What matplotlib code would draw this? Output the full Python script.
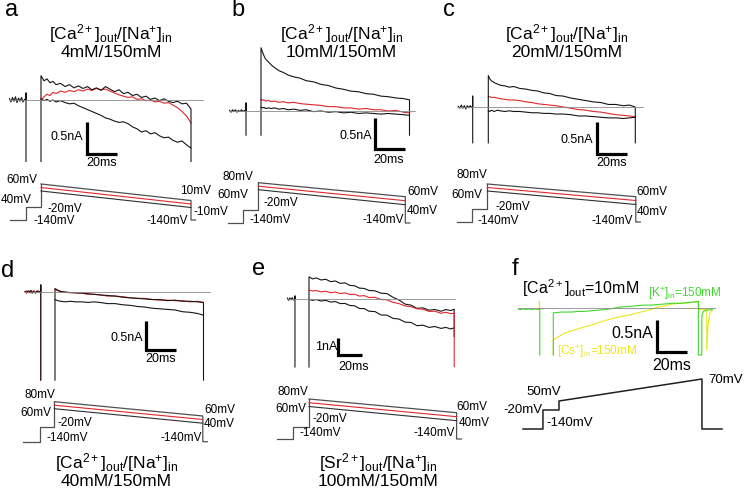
import matplotlib.pyplot as plt

plt.rcParams["font.family"] = "Liberation Sans"
plt.rcParams["mathtext.fontset"] = "custom"
plt.rcParams["mathtext.rm"] = "Liberation Sans"
plt.rcParams["mathtext.it"] = "Liberation Sans:italic"
plt.rcParams["mathtext.bf"] = "Liberation Sans:bold"

# ---------------- current traces (time in ms from ramp onset, current in nA) ----------------
# panel a: [Ca2+]out 4 mM
a_pre_t = [-21, -20, -19, -18, -17, -16, -15, -14, -13, -12, -11, -10]
a_pre = [0.02, -0.03, 0.04, -0.02, 0.05, -0.04, 0.03, -0.02, 0.04, -0.03, 0.01, 0.00]
a_cap = [0.11, -0.96]
a_t = [0, 2, 4, 6, 8, 10, 13, 16, 19, 22, 25, 28, 31, 34, 37, 40, 43, 46, 49, 52,
       55, 58, 61, 64, 67, 70, 73, 76, 79, 82, 85, 88, 91, 94, 97, 100]
a_top = [0.38, 0.30, 0.33, 0.27, 0.29, 0.24, 0.26, 0.21, 0.24, 0.19, 0.22, 0.18, 0.21, 0.16, 0.19,
         0.15, 0.21, 0.17, 0.13, 0.16, 0.10, 0.12, 0.07, 0.09, 0.04, 0.06, 0.01, 0.03, -0.01, 0.02,
         -0.02, -0.04, -0.02, -0.06, -0.05, -0.14]
a_red = [0.00, 0.05, 0.09, 0.07, 0.12, 0.10, 0.14, 0.12, 0.15, 0.13, 0.16, 0.14, 0.17, 0.15, 0.18,
         0.16, 0.17, 0.14, 0.11, 0.08, 0.06, 0.04, 0.05, 0.01, 0.02, -0.01, 0.00, -0.03, -0.02, -0.05,
         -0.04, -0.08, -0.12, -0.18, -0.25, -0.36]
a_bot = [0.02, -0.01, 0.01, -0.02, 0.00, -0.03, -0.01, -0.04, -0.06, -0.05, -0.09, -0.12, -0.15, -0.18,
         -0.21, -0.24, -0.28, -0.30, -0.33, -0.35, -0.34, -0.37, -0.42, -0.45, -0.50, -0.48, -0.53,
         -0.51, -0.56, -0.59, -0.58, -0.63, -0.66, -0.64, -0.70, -0.75]
a_floor = -0.96

# panel b: 10 mM
b_pre_t = [-21, -20, -19, -18, -17, -16, -15, -14, -13, -12, -11, -10]
b_pre = [0.01, -0.02, 0.02, -0.01, 0.02, -0.02, 0.01, -0.01, 0.02, -0.01, 0.01, 0.00]
b_cap = [0.13, -0.39]
b_t = [0, 1, 2, 3, 5, 7, 9, 12, 15, 18, 22, 26, 30, 35, 40, 45, 50, 55, 60, 65, 70, 75, 80, 85, 90, 95, 99]
b_top = [1.02, 0.95, 0.89, 0.84, 0.79, 0.74, 0.70, 0.65, 0.62, 0.58, 0.55, 0.53, 0.49, 0.47, 0.43,
         0.41, 0.37, 0.35, 0.32, 0.31, 0.28, 0.27, 0.24, 0.23, 0.21, 0.20, 0.18]
b_red = [0.19, 0.17, 0.18, 0.16, 0.17, 0.15, 0.16, 0.14, 0.15, 0.13, 0.14, 0.12, 0.11, 0.10, 0.09,
         0.07, 0.07, 0.05, 0.05, 0.03, 0.04, 0.02, 0.02, 0.00, 0.01, -0.02, -0.03]
b_bot = [0.06, 0.05, 0.06, 0.04, 0.05, 0.04, 0.05, 0.03, 0.04, 0.02, 0.03, 0.01, 0.02, -0.01, 0.00,
         -0.02, -0.01, -0.03, -0.02, -0.04, -0.03, -0.04, -0.05, -0.04, -0.05, -0.06, -0.07]
b_floor = -0.39

# panel c: 20 mM
c_pre_t = [-20, -19, -18, -17, -16, -15, -14, -13, -12, -11, -10.4]
c_pre = [0.01, -0.02, 0.03, -0.02, 0.02, -0.03, 0.02, -0.01, 0.02, -0.01, 0.00]
c_cap = [0.17, -0.56]
c_t = [0, 1, 2, 4, 6, 8, 11, 14, 17, 21, 25, 29, 33, 37, 41, 45, 50, 55, 60, 65, 70, 75, 80, 85, 90, 94, 98]
c_top = [0.49, 0.44, 0.41, 0.38, 0.36, 0.34, 0.33, 0.31, 0.32, 0.29, 0.28, 0.26, 0.25, 0.22, 0.21,
         0.18, 0.17, 0.14, 0.12, 0.10, 0.08, 0.07, 0.04, 0.04, 0.02, 0.03, 0.00]
c_red = [0.17, 0.16, 0.15, 0.15, 0.14, 0.13, 0.12, 0.11, 0.11, 0.10, 0.08, 0.07, 0.05, 0.04, 0.03,
         0.02, 0.00, -0.02, -0.04, -0.05, -0.07, -0.08, -0.10, -0.12, -0.13, -0.14, -0.15]
c_bot = [-0.06, -0.07, -0.05, -0.07, -0.05, -0.06, -0.07, -0.06, -0.07, -0.07, -0.08, -0.09, -0.09,
         -0.10, -0.10, -0.11, -0.11, -0.12, -0.14, -0.14, -0.15, -0.16, -0.17, -0.17, -0.18, -0.17, -0.16]
c_floor = -0.56

# panel d: 40 mM
d_pre_t = [-20, -19, -18, -17, -16, -15, -14, -13, -12, -11, -10, -9.5]
d_pre = [0.01, -0.02, 0.02, -0.01, 0.03, -0.02, 0.01, -0.02, 0.02, -0.01, 0.01, 0.00]
d_pre_red = [0.00, 0.02, -0.01, 0.02, -0.02, 0.01, 0.02, -0.01, 0.01, 0.02, -0.01, 0.00]
d_cap = [0.12, -1.52]
d_t = [0, 2, 4, 7, 10, 14, 18, 22, 26, 30, 35, 40, 45, 50, 55, 60, 65, 70, 75, 80, 85, 90, 95, 99]
d_top = [0.06, 0.03, 0.01, 0.00, -0.01, -0.01, -0.02, -0.03, -0.04, -0.05, -0.06, -0.07, -0.09,
         -0.10, -0.11, -0.12, -0.13, -0.13, -0.15, -0.14, -0.16, -0.16, -0.17, -0.18]
d_red = [0.04, 0.02, 0.00, -0.01, -0.01, -0.02, -0.02, -0.04, -0.04, -0.05, -0.07, -0.07, -0.08,
         -0.10, -0.11, -0.11, -0.13, -0.14, -0.14, -0.15, -0.15, -0.17, -0.16, -0.18]
d_bot = [-0.13, -0.15, -0.16, -0.17, -0.16, -0.17, -0.17, -0.18, -0.17, -0.18, -0.20, -0.20, -0.22,
         -0.23, -0.25, -0.26, -0.28, -0.29, -0.30, -0.31, -0.34, -0.35, -0.37, -0.40]
d_floor = -1.52

# panel e: [Sr2+]out 100 mM
e_pre_t = [-18, -17, -16, -15, -14, -13, -12, -11.7]
e_pre = [0.05, -0.08, 0.06, -0.05, 0.08, -0.06, 0.03, 0.00]
e_cap = [0.18, -4.0]
e_t = [0, 3, 6, 10, 14, 18, 22, 26, 30, 34, 38, 42, 46, 50, 55, 60, 65, 70, 75, 80,
       85, 90, 95, 100, 105, 110, 114, 118, 121]
e_top = [1.30, 1.18, 1.24, 1.12, 1.16, 1.02, 1.06, 0.92, 0.95, 0.80, 0.78, 0.64, 0.62, 0.50, 0.48,
         0.34, 0.32, 0.10, -0.06, -0.30, -0.36, -0.55, -0.52, -0.66, -0.62, -0.72, -0.62, -0.68, -0.60]
e_red = [0.53, 0.47, 0.50, 0.42, 0.46, 0.37, 0.41, 0.32, 0.36, 0.27, 0.28, 0.17, 0.20, 0.09, 0.10,
         -0.03, -0.05, -0.20, -0.27, -0.41, -0.45, -0.58, -0.60, -0.73, -0.72, -0.84, -0.78, -0.86, -0.84]
e_bot = [-0.02, -0.08, -0.03, -0.12, -0.08, -0.18, -0.15, -0.27, -0.26, -0.38, -0.40, -0.56, -0.56,
         -0.72, -0.74, -0.94, -0.95, -1.14, -1.18, -1.36, -1.38, -1.57, -1.54, -1.67, -1.62, -1.73,
         -1.67, -1.76, -1.70]
e_floor = -4.0
e_end_black = -2.2
e_end_red = -3.98

# panel f: K+ (green) vs Cs+ (yellow) pipette, [Ca2+]out 10 mM
f_pre_t = [-23.5, -22, -20, -18, -16, -14, -12, -10, -9]
f_green_pre = [-0.01, -0.02, -0.01, -0.02, -0.01, -0.02, -0.01, -0.02, -0.01]
f_yellow_pre_t = [-12, -9.3, -9.3, -9.0]
f_yellow_pre = [-0.01, -0.01, 0.11, -0.01]
f_cap = [-0.01, -0.74]
f_t = [0, 2, 5, 8, 12, 16, 20, 25, 30, 35, 40, 45, 50, 55, 60, 65, 70, 75, 80, 85, 90, 94, 96.7]
f_green = [-0.07, -0.07, -0.06, -0.06, -0.06, -0.05, -0.05, -0.04, -0.03, -0.02, 0.00, 0.02, 0.03,
           0.04, 0.05, 0.05, 0.06, 0.07, 0.08, 0.08, 0.09, 0.10, 0.11]
f_yellow = [-0.50, -0.47, -0.43, -0.39, -0.36, -0.33, -0.30, -0.27, -0.23, -0.19, -0.16, -0.13,
            -0.11, -0.08, -0.05, -0.02, 0.02, 0.04, 0.07, 0.08, 0.09, 0.10, 0.11]
f_floor = -0.74
f_green_tail_t = [96.7, 99, 99, 100, 102, 106]
f_green_tail = [-0.74, -0.74, -0.12, -0.05, -0.03, -0.02]
f_yellow_tail_t = [96.7, 102.3, 102.3, 103.2, 104.5, 106]
f_yellow_tail = [-0.02, -0.02, -0.66, -0.25, -0.06, -0.03]

# zero-current reference line (ms)
baseline_span = {"a": (-20.7, 108), "b": (-20.7, 102.7), "c": (-21, 103),
                 "d": (-20, 103), "e": (-18.3, 121.7), "f": (-23.5, 107.8)}

# scale bars: corner (ms, nA), length (ms, nA)
bars = {"a": (30.9, -0.84, 20, 0.5), "b": (76, -0.61, 20, 0.5), "c": (72.5, -0.73, 20, 0.5),
        "d": (60.7, -1.0, 20, 0.5), "e": (24.2, -3.29, 20, 1.0), "f": (69.1, -0.69, 20, 0.5)}
bar_labels = {"a": "0.5nA", "b": "0.5nA", "c": "0.5nA", "d": "0.5nA", "e": "1nA", "f": "0.5nA"}

# ---------------- voltage protocols (schematic levels above holding) ----------------
# (pre start, step time, ramp end, tail end) in ms; step level; ramp start/end levels
proto_times = {"a": (-21, -10, 100, 103), "b": (-20, -10, 98, 101), "c": (-20, -10, 99, 102),
               "d": (-21, -9.5, 99, 102), "e": (-27, -13, 123, 127)}
proto_step = {"a": 13, "b": 13, "c": 13, "d": 14.3, "e": 12.3}
proto_start = {"a": (36, 32.5, 29), "b": (40.3, 36.8, 33.3), "c": (38, 34.5, 31),
               "d": (40, 36.5, 33), "e": (40, 36.3, 32.5)}
proto_end = {"a": (19.5, 16, 12.5), "b": (26.3, 22.3, 18.3), "c": (25.3, 21.5, 17.5),
             "d": (25.7, 22.2, 18.5), "e": (26.3, 22.3, 18.3)}
f_proto_t = [-20.2, -6.9, -6.9, 3.8, 3.8, 99.1, 99.1, 112.5]
f_proto_v = [0, 0, 19, 19, 28, 50, 0, 0]

volt_labels = {
    "a": ["60mV", "40mV", "-20mV", "-140mV", "10mV", "-10mV", "-140mV"],
    "b": ["80mV", "60mV", "-20mV", "-140mV", "60mV", "40mV", "-140mV"],
    "c": ["80mV", "60mV", "-20mV", "-140mV", "60mV", "40mV", "-140mV"],
    "d": ["80mV", "60mV", "-20mV", "-140mV", "60mV", "40mV", "-140mV"],
    "e": ["80mV", "60mV", "-20mV", "-140mV", "60mV", "40mV", "-140mV"],
    "f": ["50mV", "-20mV", "-140mV", "70mV"],
}
titles = {"a": "4mM/150mM", "b": "10mM/150mM", "c": "20mM/150mM",
          "d": "40mM/150mM", "e": "100mM/150mM"}
ca_na = r"$[\mathrm{Ca}^{2+}]_{\mathrm{out}}/[\mathrm{Na}^{+}]_{\mathrm{in}}$"
sr_na = r"$[\mathrm{Sr}^{2+}]_{\mathrm{out}}/[\mathrm{Na}^{+}]_{\mathrm{in}}$"

# ---------------- layout ----------------
W, H = 746, 488
fig = plt.figure(figsize=(W / 100, H / 100), dpi=100)

BLACK = "#151515"
RED = "#e3262b"
GREEN = "#3fd82c"
YELLOW = "#ece51c"
GREY = "#8a8a8a"
LW = 0.8


def place(x0, y0, sx, sy, xlim, ylim):
    # axes whose data origin sits at pixel (x0, y0), sx/sy pixels per unit
    left = x0 + xlim[0] * sx
    width = (xlim[1] - xlim[0]) * sx
    top = y0 - ylim[1] * sy
    height = (ylim[1] - ylim[0]) * sy
    ax = fig.add_axes([left / W, 1 - (top + height) / H, width / W, height / H])
    ax.set_xlim(*xlim)
    ax.set_ylim(*ylim)
    ax.axis("off")
    return ax


def ptext(x, y, s, ha="left", va="center", size=8.5, color="black", **kw):
    fig.text(x / W, 1 - y / H, s, ha=ha, va=va, fontsize=size, color=color, **kw)


def draw_bar(ax, key):
    t0, i0, dt, di = bars[key]
    ax.plot([t0, t0, t0 + dt], [i0 + di, i0, i0], color="black", lw=2.3,
            solid_joinstyle="miter", solid_capstyle="butt", clip_on=False)


def draw_base(ax, key):
    t0, t1 = baseline_span[key]
    ax.plot([t0, t1], [0, 0], color=GREY, lw=0.6, zorder=5, clip_on=False)


def trace(ax, t, vals, col, start=None, end=None):
    # optional vertical transients at ramp onset / offset
    xs, ys = list(t), list(vals)
    if start is not None:
        xs, ys = [t[0]] + xs, [start] + ys
    if end is not None:
        xs, ys = xs + [t[-1]], ys + [end]
    ax.plot(xs, ys, color=col, lw=LW, clip_on=False)


def current_panel(key, geom, pre_t, pre_sets, cap, t, top, bot, red, floor):
    ax = place(*geom, (-30, 130), (-5, 2))
    for vals, col in pre_sets:
        ax.plot(pre_t + [pre_t[-1]] * 2, vals + cap, color=col, lw=LW, clip_on=False)
    trace(ax, t, bot, BLACK)
    trace(ax, t, red, RED)
    trace(ax, t, top, BLACK, start=floor, end=floor)
    draw_base(ax, key)
    draw_bar(ax, key)
    return ax


def protocol_panel(key, x0, hold_y, sx):
    ax = place(x0, hold_y, sx, 1.0, (-40, 140), (-10, 60))
    pre, step_t, T, tail = proto_times[key]
    st = proto_step[key]
    s = proto_start[key]
    e = proto_end[key]
    ax.plot([pre, step_t, step_t, 0, 0], [0, 0, st, st, s[0]], color="#505050", lw=0.9, clip_on=False)
    ax.plot([0, T, T, tail], [s[0], e[0], 0, 0], color="#505050", lw=0.9, clip_on=False)
    ax.plot([0, T], [s[1], e[1]], color=RED, lw=0.8, clip_on=False)
    ax.plot([0, T], [s[2], e[2]], color="#303030", lw=0.8, clip_on=False)
    return ax


# ---- panel a ----
current_panel("a", (41, 100, 1.5, 64), a_pre_t, [(a_pre, BLACK)], a_cap, a_t,
              a_top, a_bot, a_red, a_floor)
protocol_panel("a", 41, 220, 1.5)
# ---- panel b ----
current_panel("b", (261, 111, 1.5, 62), b_pre_t, [(b_pre, BLACK)], b_cap, b_t,
              b_top, b_bot, b_red, b_floor)
protocol_panel("b", 258.3, 223, 1.5)
# ---- panel c ----
current_panel("c", (488.3, 107, 1.5, 64), c_pre_t, [(c_pre, BLACK)], c_cap, c_t,
              c_top, c_bot, c_red, c_floor)
protocol_panel("c", 487.3, 222, 1.5)
# ---- panel d ----
current_panel("d", (55, 292, 1.5, 58), d_pre_t, [(d_pre_red, RED), (d_pre, BLACK)], d_cap, d_t,
              d_top, d_bot, d_red, d_floor)
protocol_panel("d", 54.3, 441.7, 1.5)
# ---- panel e ----
axe = place(309, 299, 1.2, 17, (-30, 130), (-5, 2))
axe.plot(e_pre_t + [e_pre_t[-1]] * 2, e_pre + e_cap, color=BLACK, lw=LW, clip_on=False)
trace(axe, e_t, e_bot, BLACK)
trace(axe, e_t, e_top, BLACK, start=e_floor, end=e_end_black)
trace(axe, e_t, e_red, RED, end=e_end_red)
draw_base(axe, "e")
draw_bar(axe, "e")
protocol_panel("e", 309, 439, 1.2)

# ---- panel f ----
axf = place(553.3, 308.3, 1.5, 63, (-30, 130), (-2, 1))
axf.plot(f_yellow_pre_t, f_yellow_pre, color=YELLOW, lw=LW, clip_on=False)
axf.plot([f_t[0]] + f_t + f_yellow_tail_t, [f_floor] + f_yellow + f_yellow_tail,
         color=YELLOW, lw=LW, clip_on=False)
axf.plot(f_pre_t + [f_pre_t[-1]] * 2, f_green_pre + f_cap, color=GREEN, lw=LW, clip_on=False)
axf.plot([f_t[0]] + f_t + f_green_tail_t, [f_floor] + f_green + f_green_tail,
         color=GREEN, lw=LW, clip_on=False)
draw_base(axf, "f")
draw_bar(axf, "f")
axpf = place(553.3, 429, 1.5, 1.0, (-40, 140), (-10, 60))
axpf.plot(f_proto_t, f_proto_v, color="#202020", lw=1.1, clip_on=False)

# ---------------- text ----------------
LETTER = 17
ptext(5, 16, "a", va="baseline", size=LETTER)
ptext(231, 16, "b", va="baseline", size=LETTER)
ptext(443, 16, "c", va="baseline", size=LETTER)
ptext(1, 277, "d", va="baseline", size=LETTER)
ptext(252, 275, "e", va="baseline", size=LETTER)
ptext(512, 275, "f", va="baseline", size=LETTER)

# two-line condition headings, one text object each
TS = 12.5
for key, cx, cy, head in [("a", 111, 41, ca_na), ("b", 341.5, 41, ca_na),
                          ("c", 566.5, 41, ca_na), ("d", 116.5, 470, ca_na),
                          ("e", 378, 470, sr_na)]:
    ptext(cx, cy, head + "\n" + titles[key], ha="center", size=TS,
          multialignment="center", linespacing=0.95)

# voltage labels: (x, y, ha) per label
volt_pos = {
    "a": [(37, 180, "right"), (32, 200, "right"), (48, 209, "left"), (33, 221, "left"),
          (180, 191, "left"), (193, 212, "left"), (188, 221, "right")],
    "b": [(253, 177, "right"), (248, 195, "right"), (263, 203, "left"), (250, 220, "left"),
          (407, 192, "left"), (407, 211, "left"), (404, 220, "right")],
    "c": [(487, 175, "right"), (482, 195, "right"), (495, 206.7, "left"), (477, 221, "left"),
          (636.7, 191.7, "left"), (637, 211.7, "left"), (633, 221, "right")],
    "d": [(55, 395, "right"), (51.7, 413.3, "right"), (58, 422.7, "left"), (46.7, 438.3, "left"),
          (204, 410, "left"), (204, 424, "left"), (201.7, 438.3, "right")],
    "e": [(308, 391.7, "right"), (306.7, 409.3, "right"), (312.7, 419.3, "left"), (300, 432.7, "left"),
          (456.7, 406.7, "left"), (459, 422.7, "left"), (455, 432.7, "right")],
    "f": [(526.7, 391.7, "left"), (542.7, 410, "right"), (546.7, 423.3, "left"), (708, 380, "left")],
}
for key, plist in volt_pos.items():
    size = 9.5 if key == "f" else 8.5
    for (x, y, ha), s in zip(plist, volt_labels[key]):
        ptext(x, y, s, ha=ha, size=size)

# scale-bar labels
bar_text = {"a": ((83.3, 136.7), (102, 163)), "b": ((372, 136), (389, 160)),
            "c": ((593.3, 140), (611.7, 163.3)), "d": ((143.3, 338.3), (161, 359.3)),
            "e": ((337.3, 347.3), (354, 367.3)), "f": ((653, 333.3), (672, 365))}
for key, ((xv, yv), (xh, yh)) in bar_text.items():
    size = 11.5 if key == "f" else 9
    ptext(xv, yv, bar_labels[key], ha="right", size=size)
    ptext(xh, yh, "20ms", ha="center", size=size)

ptext(521.7, 288.3, r"$[\mathrm{Ca}^{2+}]_{\mathrm{out}}$=10mM", size=11.5)
ptext(648, 293.3, r"$[\mathrm{K}^{+}]_{\mathrm{in}}$=150mM", size=8.5, color=GREEN)
ptext(556.7, 351.7, r"$[\mathrm{Cs}^{+}]_{\mathrm{in}}$=150mM", size=8.5, color=YELLOW)

fig.savefig("out.png", dpi=100)
